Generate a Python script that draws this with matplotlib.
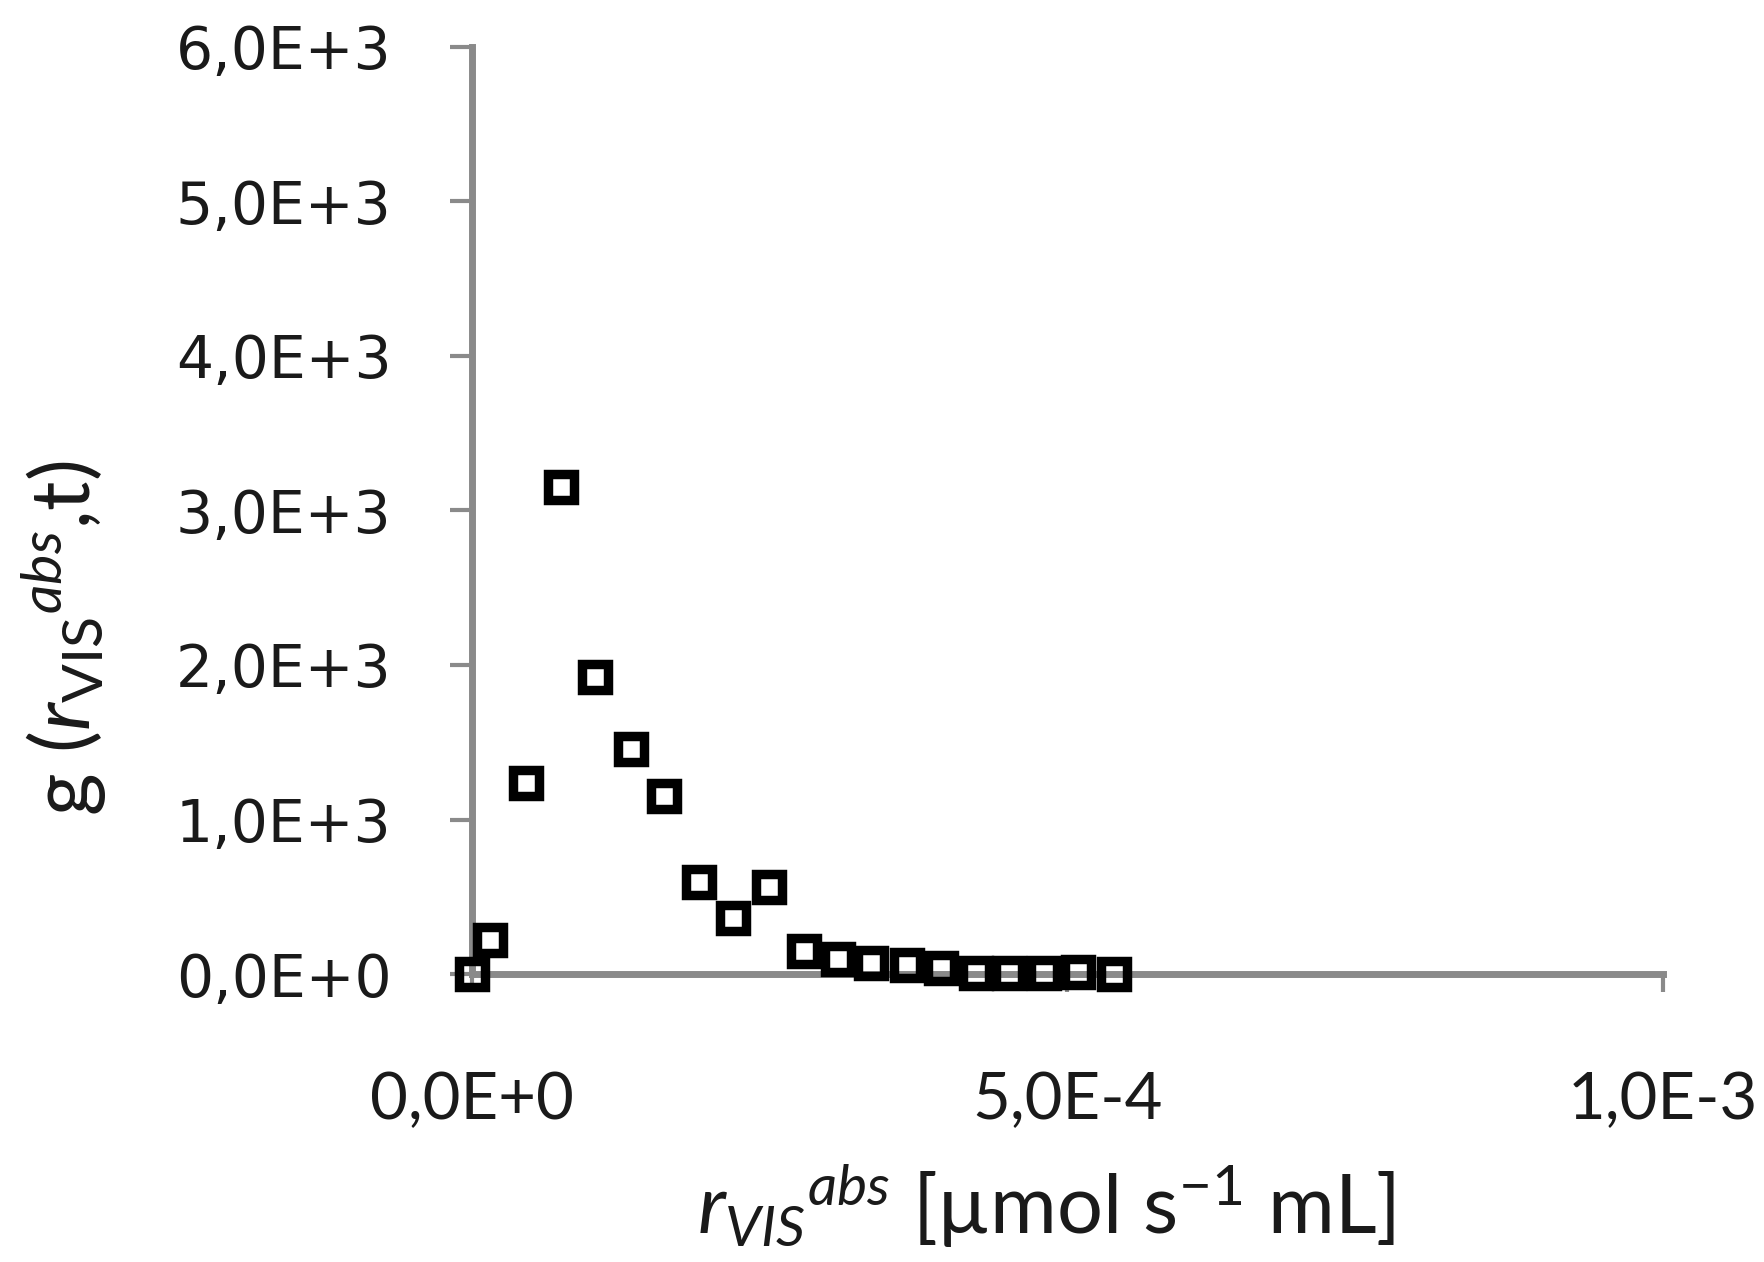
import matplotlib
matplotlib.use('Agg')
import matplotlib.pyplot as plt

# ---- data ----
r_vis = [0.0, 1.5e-5, 4.52e-5, 7.48e-5, 1.03e-4, 1.331e-4, 1.613e-4, 1.905e-4,
         2.19e-4, 2.49e-4, 2.79e-4, 3.07e-4, 3.35e-4, 3.65e-4, 3.94e-4,
         4.23e-4, 4.51e-4, 4.80e-4, 5.09e-4, 5.39e-4]
g_vals = [0, 217, 1235, 3149, 1923, 1458, 1152, 597, 365, 562, 148, 95, 71,
          60, 36, 9, 9, 9, 15, 0]

y_ticks = [0, 1000, 2000, 3000, 4000, 5000, 6000]
y_tick_labels = ['0,0E+0', '1,0E+3', '2,0E+3', '3,0E+3', '4,0E+3', '5,0E+3', '6,0E+3']
x_ticks = [0.0, 5e-4, 1e-3]
x_tick_labels = ['0,0E+0', '5,0E-4', '1,0E-3']

# ---- style ----
plt.rcParams['mathtext.fontset'] = 'custom'
plt.rcParams['mathtext.rm'] = 'Lato'
plt.rcParams['mathtext.it'] = 'Lato:italic'

axis_gray = '#8a8a8a'
text_col = '#1a1a1a'

fig = plt.figure(figsize=(17.64, 12.62), dpi=100)
ax = fig.add_axes([0.2676, 0.2282, 0.675, 0.7346])

ax.plot(r_vis, g_vals, linestyle='none', marker='s', markersize=18.5,
        markeredgewidth=6.8, markeredgecolor='black', markerfacecolor='none',
        clip_on=False, zorder=5)

ax.set_xlim(0, 1e-3)
ax.set_ylim(0, 6000)

for side in ['top', 'right']:
    ax.spines[side].set_visible(False)
for side in ['left', 'bottom']:
    ax.spines[side].set_color(axis_gray)
    ax.spines[side].set_linewidth(5)
    ax.spines[side].set_zorder(2)

ax.set_yticks(y_ticks)
ax.set_yticklabels(y_tick_labels, fontfamily='DejaVu Sans', fontsize=42,
                   color=text_col)
ax.set_xticks(x_ticks)
ax.set_xticklabels(x_tick_labels, fontfamily='Lato', fontsize=47,
                   color=text_col)

ax.tick_params(axis='y', direction='out', length=16, width=3,
               color=axis_gray, pad=42)
ax.tick_params(axis='x', direction='out', length=13, width=3,
               color=axis_gray, pad=57)

ax.set_xlabel(r'$\mathit{r}_{\mathit{VIS}}{}^{\mathit{abs}}$ [µmol s$^{-\mathit{1}}$ mL]',
              fontfamily='Lato', fontsize=58.5, color=text_col)
ax.xaxis.label.set_va('center')
ax.xaxis.set_label_coords(0.482, -0.25)

ax.set_ylabel(r'g ($\mathit{r}_{\mathrm{VIS}}{}^{\mathit{abs}}$,t)',
              fontfamily='Lato', fontsize=59, color=text_col)
ax.yaxis.label.set_va('center')
ax.yaxis.set_label_coords(-0.343, 0.3625)

fig.savefig('out.png', dpi=100, facecolor='white')
